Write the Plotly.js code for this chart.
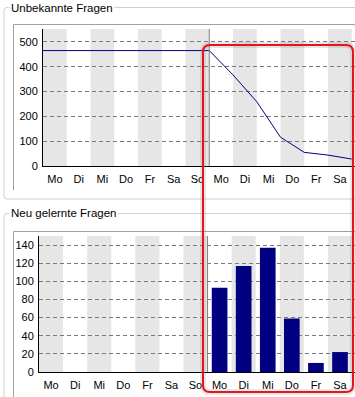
<!DOCTYPE html>
<html>
<head>
<meta charset="utf-8">
<script src="https://cdn.plot.ly/plotly-3.0.1.min.js"></script>
<style>html,body{margin:0;padding:0;background:#fff;}#chart{width:355px;height:397px;}</style>
</head>
<body>
<div id="chart"></div>
<script>
// ---- data ----
const days = ["Mo","Di","Mi","Do","Fr","Sa","So","Mo","Di","Mi","Do","Fr","Sa","So"];
const unknownTitle = "Unbekannte Fragen";
const learnedTitle = "Neu gelernte Fragen";
// unknown questions, sampled at the start of each day
const unknownValues = [465,465,465,465,465,465,465,465,367,259,116,55,44,28];
// newly learned questions per day
const learnedValues = [0,0,0,0,0,0,0,93,117,137,59,10,22,0];
const todayIndex = 7;

// ---- layout helpers ----
const W = 355, H = 397;
const X = p => p / W;
const Y = p => 1 - p / H;
const FONT = "Liberation Sans, Arial, sans-serif";
const navy = "#000080";
const band = "#e6e6e6";

function rrectPath(x0, y0, x1, y1, r) {
  const P = (x, y) => X(x).toFixed(5) + "," + Y(y).toFixed(5);
  return "M" + P(x0 + r, y0) + " L" + P(x1 - r, y0) +
    " Q" + P(x1, y0) + " " + P(x1, y0 + r) +
    " L" + P(x1, y1 - r) + " Q" + P(x1, y1) + " " + P(x1 - r, y1) +
    " L" + P(x0 + r, y1) + " Q" + P(x0, y1) + " " + P(x0, y1 - r) +
    " L" + P(x0, y0 + r) + " Q" + P(x0, y0) + " " + P(x0 + r, y0) + " Z";
}
function openBoxPath(x0, y0, x1, y1, r) {
  const P = (x, y) => X(x).toFixed(5) + "," + Y(y).toFixed(5);
  return "M" + P(x1 + 5, y0) + " L" + P(x0 + r, y0) + " Q" + P(x0, y0) + " " + P(x0, y0 + r) +
    " L" + P(x0, y1 - r) + " Q" + P(x0, y1) + " " + P(x0 + r, y1) + " L" + P(x1 + 5, y1);
}
function linePx(x0, y0, x1, y1, color) {
  return {type: "line", xref: "paper", yref: "paper", x0: X(x0), y0: Y(y0), x1: X(x1), y1: Y(y1),
          line: {color: color, width: 1}, layer: "below"};
}

const shapes = [];
// group boxes
shapes.push({type: "path", xref: "paper", yref: "paper", path: openBoxPath(4, 7.5, W, 199, 3),
             line: {color: "#d0d0d0", width: 1}, layer: "below"});
shapes.push({type: "path", xref: "paper", yref: "paper", path: openBoxPath(4, 213.5, W, H + 10, 3),
             line: {color: "#d0d0d0", width: 1}, layer: "below"});
// inner panels
shapes.push(linePx(13.5, 24.5, W, 24.5, "#a0a0a0"));
shapes.push(linePx(13.5, 24.5, 13.5, 190, "#a0a0a0"));
shapes.push(linePx(13.5, 231.5, W, 231.5, "#a0a0a0"));
shapes.push(linePx(13.5, 231.5, 13.5, H, "#a0a0a0"));

// alternating day bands + "today" marker
[["x", "y"], ["x2", "y2"]].forEach(([xr, yr]) => {
  days.forEach((d, i) => {
    if (i % 2 === 0) {
      shapes.push({type: "rect", xref: xr, yref: yr + " domain", x0: i - 0.5, x1: i + 0.5, y0: 0, y1: 1,
                   fillcolor: band, line: {width: 0}, layer: "below"});
    }
  });
  shapes.push({type: "line", xref: xr, yref: yr + " domain", x0: todayIndex - 0.5, x1: todayIndex - 0.5,
               y0: 0, y1: 1, line: {color: "#808080", width: 1}, layer: "above"});
});

// red highlight frame
shapes.push({type: "path", xref: "paper", yref: "paper", path: rrectPath(203, 45, 353, 392, 7),
             line: {color: "rgba(120,120,120,0.18)", width: 6}, layer: "above"});
shapes.push({type: "path", xref: "paper", yref: "paper", path: rrectPath(203, 45, 353, 392, 7),
             line: {color: "#e8141c", width: 2}, layer: "above"});

const dayIdx = days.map((d, i) => i);
const traces = [
  {type: "scatter", mode: "lines", x: dayIdx.map(i => i - 0.5), y: unknownValues,
   xaxis: "x", yaxis: "y", line: {color: navy, width: 1}, hoverinfo: "skip"},
  {type: "bar", x: dayIdx, y: learnedValues, xaxis: "x2", yaxis: "y2",
   marker: {color: navy, line: {width: 0}}, width: 0.65, hoverinfo: "skip"}
];

const tickFont = {family: FONT, size: 11, color: "#000"};
const xCommon = {tickvals: dayIdx, ticktext: days, showgrid: false, zeroline: false,
  showline: true, linecolor: "#000", linewidth: 1, ticks: "", tickfont: tickFont, fixedrange: true,
  ticklabelstandoff: 3};
const yCommon = {showgrid: true, gridcolor: "#7a7a7a", griddash: "4px,3px", gridwidth: 1,
  zeroline: false, showline: true, linecolor: "#000", linewidth: 1, ticks: "", tickfont: tickFont,
  fixedrange: true, ticklabelstandoff: 2};

const layout = {
  width: W, height: H,
  margin: {l: 0, r: 0, t: 0, b: 0},
  paper_bgcolor: "#fff", plot_bgcolor: "rgba(0,0,0,0)",
  showlegend: false,
  font: {family: FONT, size: 11, color: "#000"},
  xaxis: Object.assign({}, xCommon, {domain: [X(43), 1], range: [-0.5, -0.5 + (W - 43) / 23.75], anchor: "y"}),
  yaxis: Object.assign({}, yCommon, {domain: [Y(166), Y(29)], range: [0, 552],
          tickvals: [0,100,200,300,400,500], anchor: "x"}),
  xaxis2: Object.assign({}, xCommon, {domain: [X(39), 1], range: [-0.5, -0.5 + (W - 39) / 24.08], anchor: "y2"}),
  yaxis2: Object.assign({}, yCommon, {domain: [Y(372), Y(236)], range: [0, 150],
          tickvals: [0,20,40,60,80,100,120,140], anchor: "x2"}),
  shapes: shapes,
  annotations: [
    {xref: "paper", yref: "paper", x: X(9), y: Y(7.5), xanchor: "left", yanchor: "middle",
     text: unknownTitle, showarrow: false, bgcolor: "#fff", borderpad: 1,
     font: {family: FONT, size: 11.5, color: "#000"}},
    {xref: "paper", yref: "paper", x: X(9), y: Y(213.5), xanchor: "left", yanchor: "middle",
     text: learnedTitle, showarrow: false, bgcolor: "#fff", borderpad: 1,
     font: {family: FONT, size: 11.5, color: "#000"}}
  ]
};

Plotly.newPlot("chart", traces, layout, {displayModeBar: false});
</script>
</body>
</html>
